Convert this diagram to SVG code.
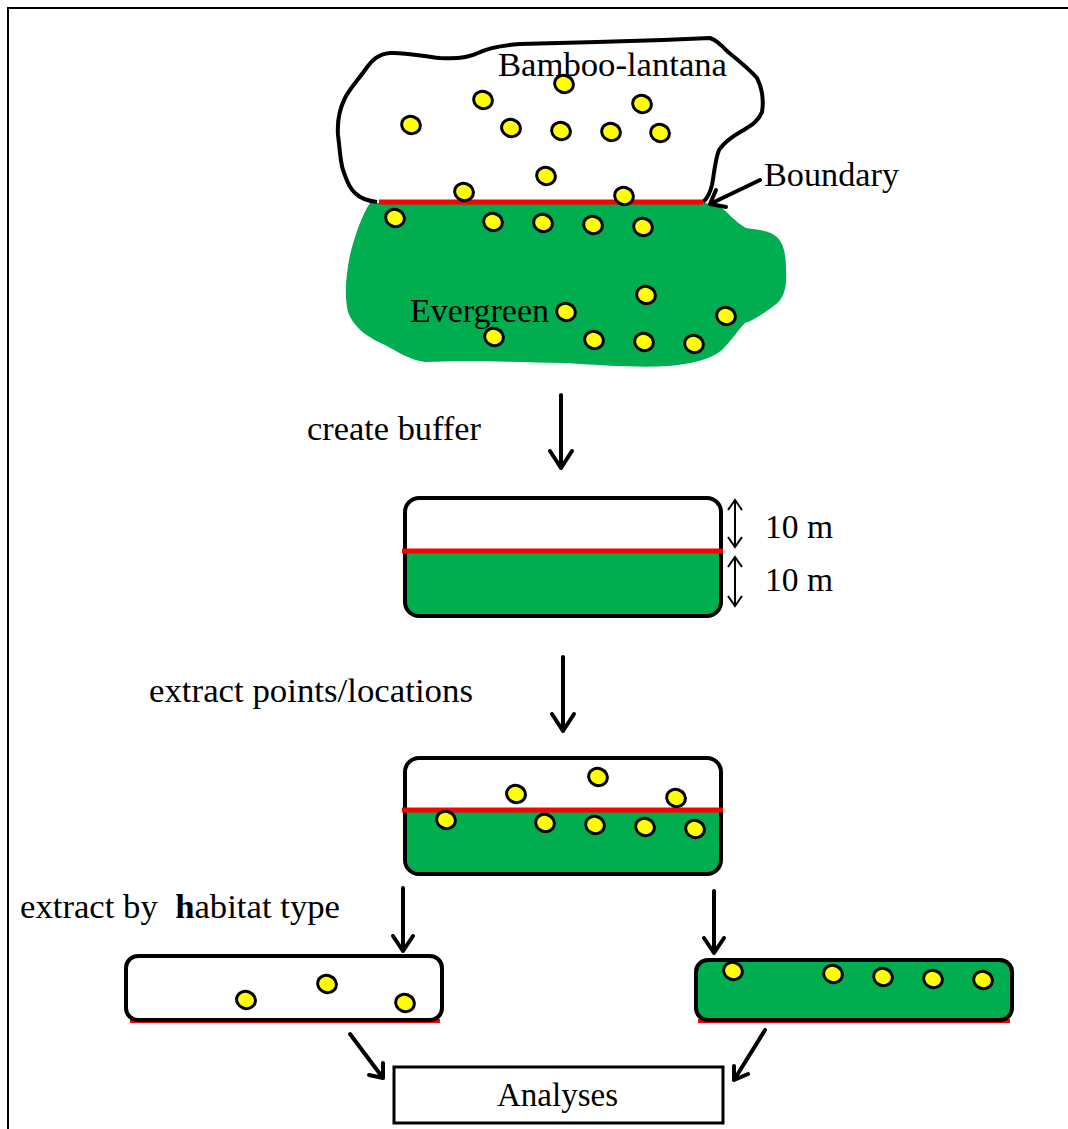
<svg xmlns="http://www.w3.org/2000/svg" width="1068" height="1129" viewBox="0 0 1068 1129">
<defs>
<style>
.lbl{font-family:"Liberation Serif","Times New Roman",serif;font-size:34px;fill:#000}
.dot{fill:#ffff00;stroke:#000;stroke-width:3}
.arr{fill:none;stroke:#000;stroke-width:4;stroke-linecap:round;stroke-linejoin:round}
.box{stroke:#000;stroke-width:4}
.red{stroke:#ff0000;stroke-width:5;fill:none}
</style>
<ellipse id="d" class="dot" cx="0" cy="0" rx="9.5" ry="8.5" transform="rotate(20)"/>
</defs>
<rect x="0" y="0" width="1068" height="1129" fill="#fff"/>
<path d="M8,1129 V8 H1068" fill="none" stroke="#000" stroke-width="2"/>

<g id="map">
<path id="evergreen-area" fill="#00ad4f" d="M370,203 C362,215 355,235 350,255 C346,275 344,295 348,312 C355,330 370,338 385,345 C398,352 410,360 425,362 C460,360 520,362 563,363 C600,365 640,368 668,366 C690,364 710,360 722,350 C732,340 738,330 745,323 C755,320 765,312 775,305 C785,298 787,285 786,270 C786,255 784,245 778,238 C770,230 758,230 746,228 C735,222 728,212 720,207 C714,204 708,203 703,203 Z"/>
<path id="bamboo-area" fill="none" stroke="#000" stroke-width="4" stroke-linejoin="round" d="M377,202 C368,201 360,198 355,193 C348,187 346,178 343,170 C340,160 340,150 338,135 C337,120 340,108 345,98 C350,88 358,80 365,70 C372,60 378,54 390,53 C405,52 420,56 440,58 C455,59 468,58 478,53 C490,47 505,45 520,44 L597,42 L663,40 L710,38 C716,40 720,44 728,52 C738,60 750,70 757,78 C762,88 764,100 762,112 C758,122 750,126 742,131 C733,136 725,141 719,150 C715,160 714,175 712,185 C710,193 708,198 703,202"/>
<line class="red" x1="379" y1="202" x2="703" y2="202"/>
<g id="map-dots">
<use href="#d" x="483" y="100"/><use href="#d" x="564" y="84"/><use href="#d" x="642" y="104"/>
<use href="#d" x="411" y="125"/><use href="#d" x="511" y="128"/><use href="#d" x="561" y="131"/>
<use href="#d" x="611" y="132"/><use href="#d" x="660" y="133"/><use href="#d" x="546" y="176"/>
<use href="#d" x="464" y="192"/><use href="#d" x="624" y="196"/>
<use href="#d" x="395" y="218"/><use href="#d" x="493" y="222"/><use href="#d" x="543" y="223"/>
<use href="#d" x="593" y="225"/><use href="#d" x="643" y="227"/><use href="#d" x="646" y="295"/>
<use href="#d" x="566" y="312"/><use href="#d" x="726" y="316"/><use href="#d" x="494" y="337"/>
<use href="#d" x="594" y="340"/><use href="#d" x="644" y="342"/><use href="#d" x="694" y="344"/>
</g>
<text class="lbl" x="498" y="76" textLength="229" lengthAdjust="spacingAndGlyphs">Bamboo-lantana</text>
<text class="lbl" x="410" y="322" textLength="139" lengthAdjust="spacingAndGlyphs">Evergreen</text>
<text class="lbl" x="764" y="186" textLength="135" lengthAdjust="spacingAndGlyphs">Boundary</text>
</g>

<g id="buffer">
<path d="M407,552 V604 a12,12 0 0 0 12,12 H709 a12,12 0 0 0 12,-12 V552 Z" fill="#00ad4f"/>
<rect class="box" x="405" y="498" width="316" height="118" rx="14" fill="none"/>
<line class="red" x1="402" y1="551" x2="723" y2="551"/>
<text class="lbl" x="765" y="538" textLength="68" lengthAdjust="spacingAndGlyphs">10 m</text>
<text class="lbl" x="765" y="591" textLength="68" lengthAdjust="spacingAndGlyphs">10 m</text>
</g>

<g id="points">
<path d="M407,810 V860 a12,12 0 0 0 12,12 H709 a12,12 0 0 0 12,-12 V810 Z" fill="#00ad4f"/>
<rect class="box" x="405" y="758" width="316" height="116" rx="14" fill="none"/>
<line class="red" x1="402" y1="810" x2="723" y2="810"/>
<use href="#d" x="516" y="794"/><use href="#d" x="598" y="777"/><use href="#d" x="676" y="798"/>
<use href="#d" x="446" y="820"/><use href="#d" x="545" y="823"/><use href="#d" x="595" y="825"/>
<use href="#d" x="645" y="827"/><use href="#d" x="695" y="829"/>
</g>

<g id="bamboo-points">
<line x1="130" y1="1021" x2="440" y2="1021" stroke="#ff0000" stroke-width="4"/>
<rect class="box" x="126" y="956" width="316" height="64" rx="12" fill="#fff"/>
<use href="#d" x="246" y="1000"/><use href="#d" x="327" y="984"/><use href="#d" x="405" y="1003"/>
</g>

<g id="evergreen-points">
<line x1="698" y1="1021" x2="1010" y2="1021" stroke="#ff0000" stroke-width="4"/>
<rect class="box" x="696" y="960" width="316" height="60" rx="12" fill="#00ad4f"/>
<use href="#d" x="733" y="971"/><use href="#d" x="833" y="974"/><use href="#d" x="883" y="977"/>
<use href="#d" x="933" y="979"/><use href="#d" x="983" y="980"/>
</g>

<g id="analyses">
<rect x="394" y="1067" width="329" height="56" fill="#fff" stroke="#000" stroke-width="3"/>
<text class="lbl" x="497" y="1106" textLength="121" lengthAdjust="spacingAndGlyphs">Analyses</text>
</g>

<g id="labels">
<text class="lbl" x="307" y="440" textLength="174" lengthAdjust="spacingAndGlyphs">create buffer</text>
<text class="lbl" x="149" y="702" textLength="324" lengthAdjust="spacingAndGlyphs">extract points/locations</text>
<text class="lbl" x="20" y="918" xml:space="preserve" textLength="320" lengthAdjust="spacingAndGlyphs">extract by  <tspan font-weight="bold">h</tspan>abitat type</text>
</g>

<g id="connectors">
<path class="arr" d="M760,180 L710,204 M716,190 L710,204 L726,207"/>
<path class="arr" d="M561,395 V468 M550,451 L561,468 L572,451"/>
<path class="arr" d="M563,657 V731 M552,714 L563,731 L574,714"/>
<path class="arr" d="M403,888 V951 M393,936 L403,951 L413,936"/>
<path class="arr" d="M714,891 V953 M704,938 L714,953 L724,938"/>
<path class="arr" d="M350,1034 L383,1078 M369,1075 L383,1078 L383,1063"/>
<path class="arr" d="M765,1030 L734,1080 M734,1066 L734,1080 L748,1074"/>
<path d="M735,500 V547 M728,510 L735,500 L742,510 M728,537 L735,547 L742,537" fill="none" stroke="#000" stroke-width="2"/>
<path d="M735,557 V606 M728,567 L735,557 L742,567 M728,596 L735,606 L742,596" fill="none" stroke="#000" stroke-width="2"/>
</g>
</svg>
